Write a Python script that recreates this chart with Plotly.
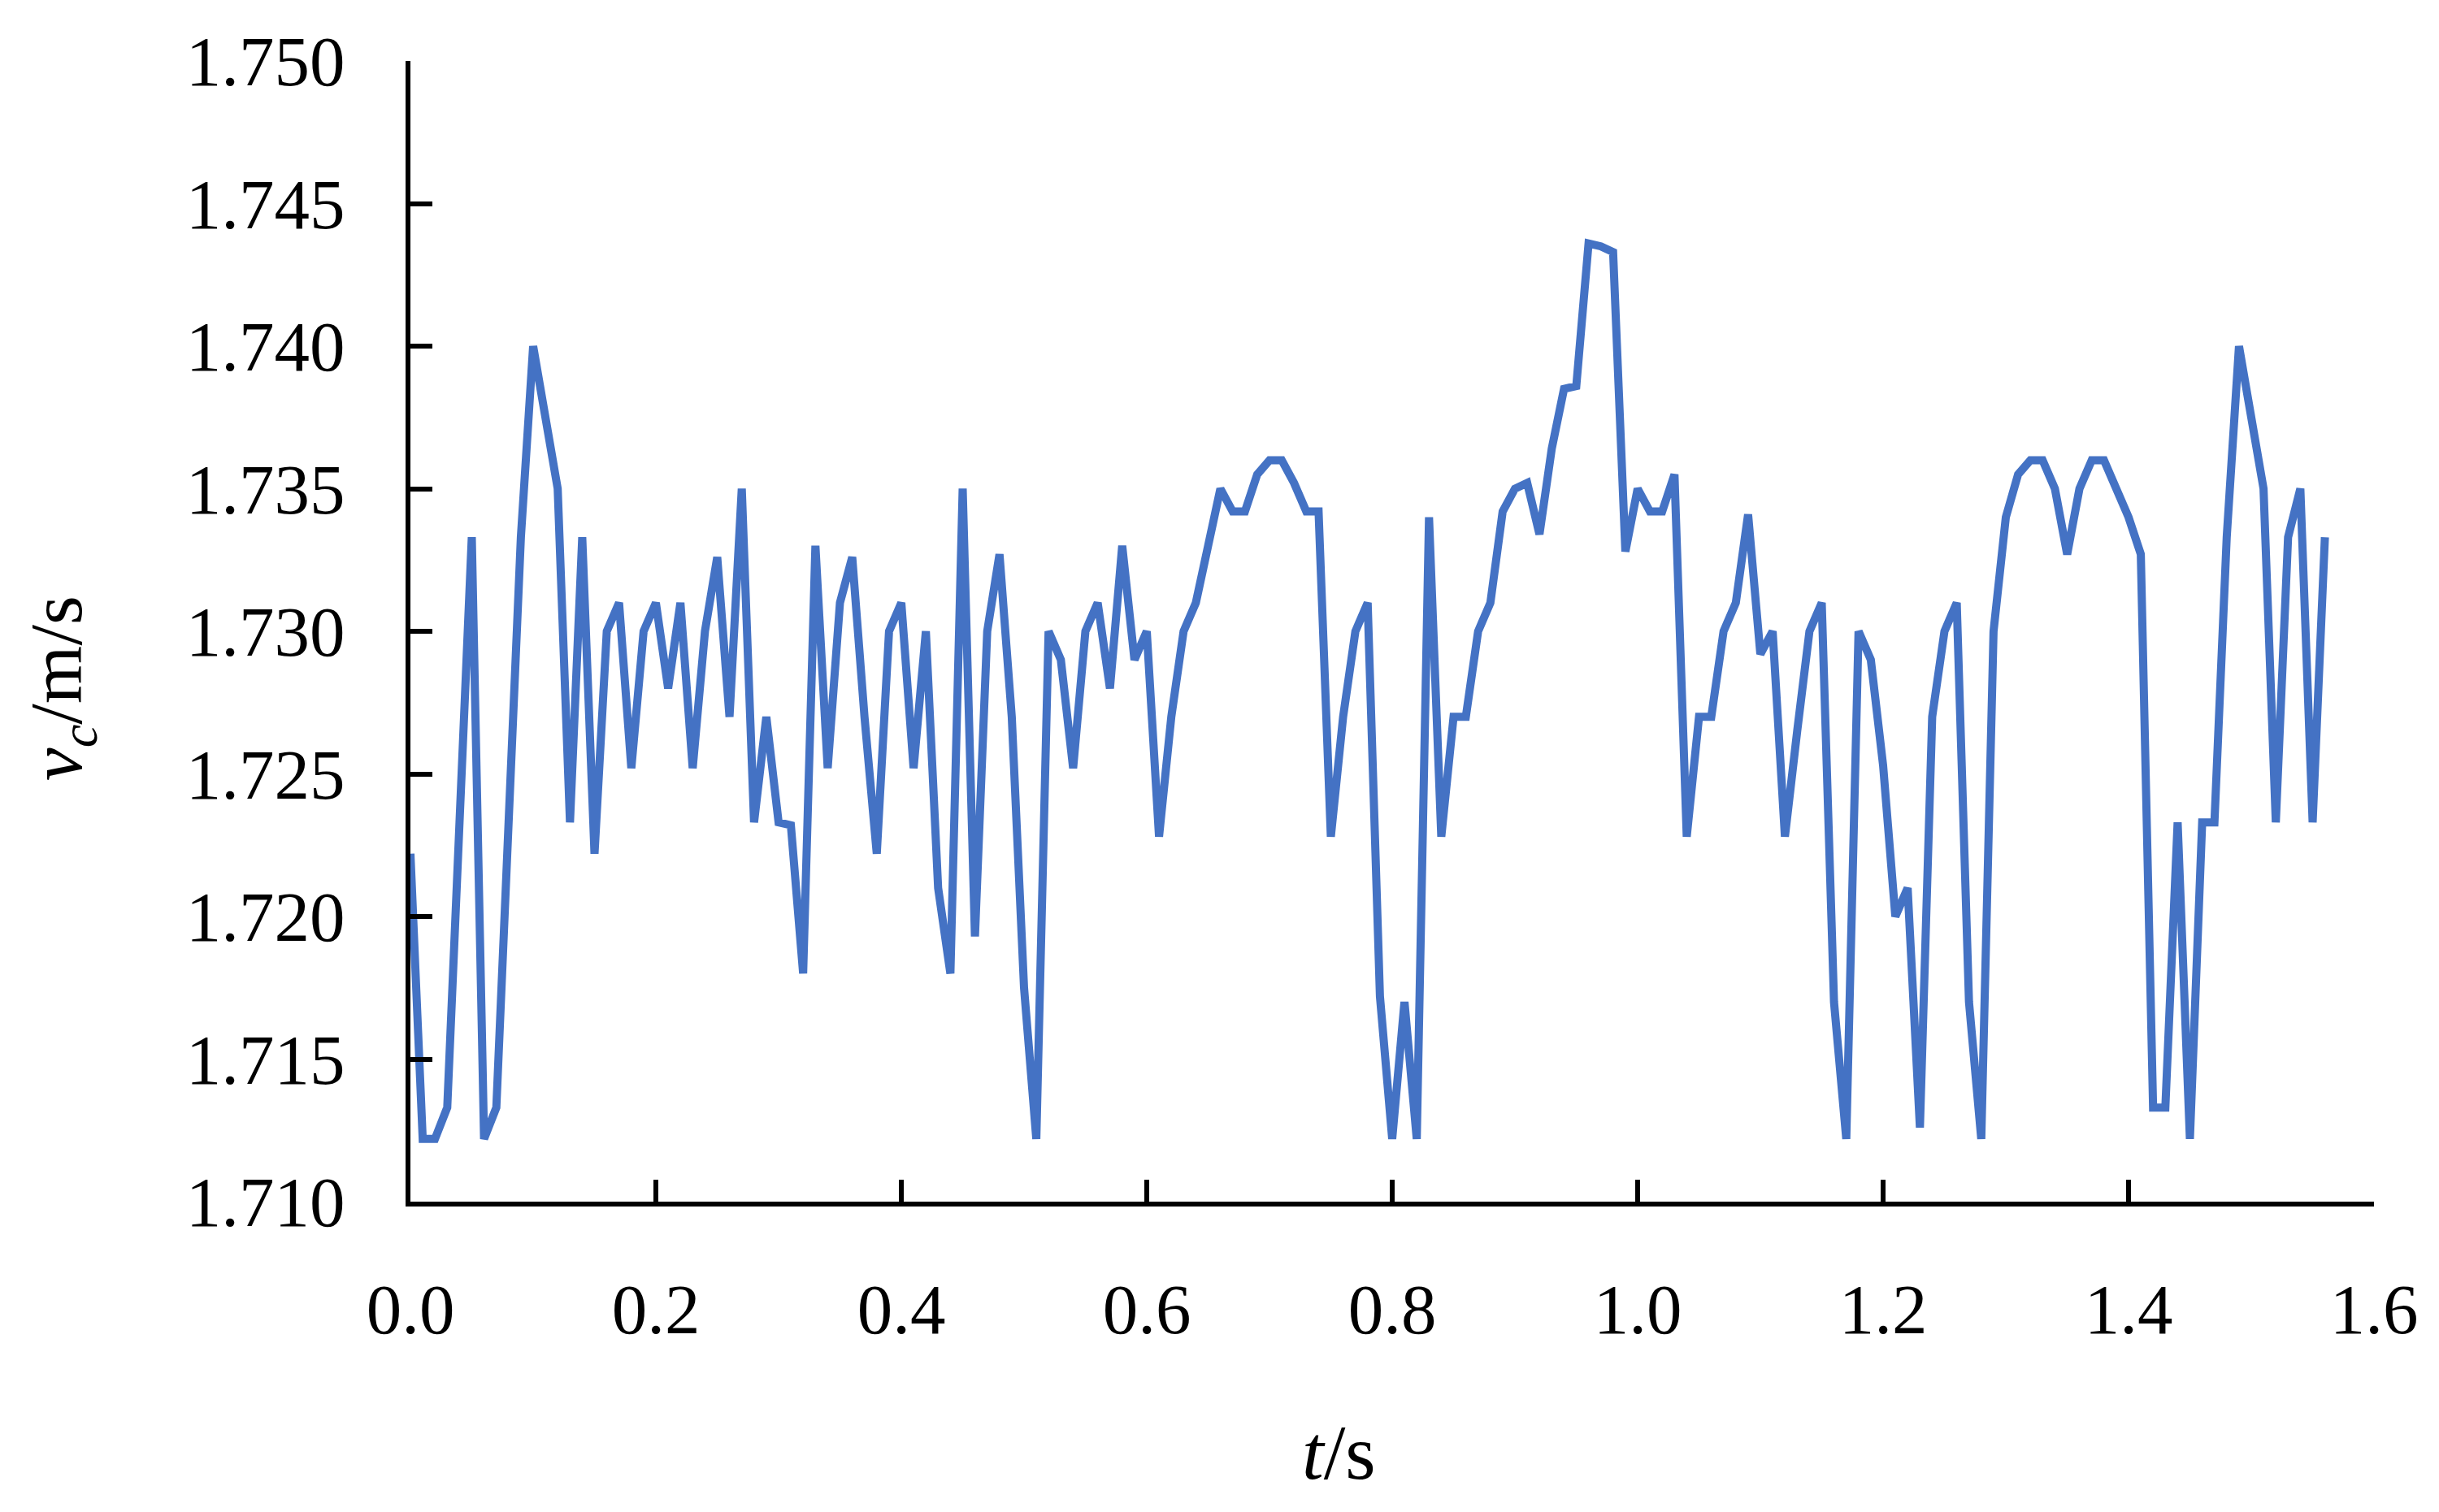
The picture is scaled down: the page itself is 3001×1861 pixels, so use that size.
import plotly.graph_objects as go

# time samples (s): 0.00 .. 1.56 step 0.01
t_values = [round(i * 0.01, 2) for i in range(157)]

# velocity v_c (m/s)
v_values = [
    1.7222, 1.7122, 1.7122, 1.7133, 1.7233, 1.7333, 1.7122, 1.7133, 1.7233, 1.7333,  # 0.00-0.09
    1.7400, 1.7375, 1.7350, 1.7233, 1.7333, 1.7222, 1.7300, 1.7310, 1.7252, 1.7300,  # 0.10-0.19
    1.7310, 1.7280, 1.7310, 1.7252, 1.7300, 1.7326, 1.7270, 1.7350, 1.7233, 1.7270,  # 0.20-0.29
    1.7233, 1.7232, 1.7180, 1.7330, 1.7252, 1.7310, 1.7326, 1.7270, 1.7222, 1.7300,  # 0.30-0.39
    1.7310, 1.7252, 1.7300, 1.7210, 1.7180, 1.7350, 1.7193, 1.7300, 1.7327, 1.7270,  # 0.40-0.49
    1.7175, 1.7122, 1.7300, 1.7290, 1.7252, 1.7300, 1.7310, 1.7280, 1.7330, 1.7290,  # 0.50-0.59
    1.7300, 1.7228, 1.7270, 1.7300, 1.7310, 1.7330, 1.7350, 1.7342, 1.7342, 1.7355,  # 0.60-0.69
    1.7360, 1.7360, 1.7352, 1.7342, 1.7342, 1.7228, 1.7270, 1.7300, 1.7310, 1.7172,  # 0.70-0.79
    1.7122, 1.7170, 1.7122, 1.7340, 1.7228, 1.7270, 1.7270, 1.7300, 1.7310, 1.7342,  # 0.80-0.89
    1.7350, 1.7352, 1.7334, 1.7364, 1.7385, 1.7386, 1.7436, 1.7435, 1.7433, 1.7328,  # 0.90-0.99
    1.7350, 1.7342, 1.7342, 1.7355, 1.7228, 1.7270, 1.7270, 1.7300, 1.7310, 1.7341,  # 1.00-1.09
    1.7292, 1.7300, 1.7228, 1.7265, 1.7300, 1.7310, 1.7170, 1.7122, 1.7300, 1.7290,  # 1.10-1.19
    1.7253, 1.7200, 1.7210, 1.7126, 1.7270, 1.7300, 1.7310, 1.7170, 1.7122, 1.7300,  # 1.20-1.29
    1.7340, 1.7355, 1.7360, 1.7360, 1.7350, 1.7327, 1.7350, 1.7360, 1.7360, 1.7350,  # 1.30-1.39
    1.7340, 1.7327, 1.7133, 1.7133, 1.7233, 1.7122, 1.7233, 1.7233, 1.7333, 1.7400,  # 1.40-1.49
    1.7375, 1.7350, 1.7233, 1.7333, 1.7350, 1.7233, 1.7333,                          # 1.50-1.56
]

x_ticks = [0.0, 0.2, 0.4, 0.6, 0.8, 1.0, 1.2, 1.4, 1.6]
x_tick_labels = ["0.0", "0.2", "0.4", "0.6", "0.8", "1.0", "1.2", "1.4", "1.6"]
y_ticks = [1.710, 1.715, 1.720, 1.725, 1.730, 1.735, 1.740, 1.745, 1.750]
y_tick_labels = ["1.710", "1.715", "1.720", "1.725", "1.730", "1.735", "1.740", "1.745", "1.750"]

FONT = "Liberation Serif, Times New Roman, serif"

fig = go.Figure()
fig.add_trace(go.Scatter(
    x=t_values, y=v_values, mode="lines",
    line=dict(color="#4472C4", width=10),
    showlegend=False, hoverinfo="skip",
))

axis_common = dict(
    showgrid=False, zeroline=False, showline=True, showticklabels=True,
    linecolor="black", linewidth=6,
    ticks="inside", ticklen=27, tickwidth=6, tickcolor="black",
    tickfont=dict(family=FONT, size=87, color="black"),
    mirror=False,
)

fig.update_xaxes(
    range=[0, 1.6], tickmode="array", tickvals=x_ticks, ticktext=x_tick_labels,
    ticklabelstandoff=52, **axis_common,
)
fig.update_yaxes(
    range=[1.710, 1.750], tickmode="array", tickvals=y_ticks, ticktext=y_tick_labels,
    ticklabelstandoff=57, **axis_common,
)

fig.add_annotation(
    text="<i>v</i><sub><i>c</i></sub>/m/s", xref="paper", yref="paper",
    x=-0.178, y=0.45, xanchor="center", yanchor="middle",
    textangle=-90, showarrow=False,
    font=dict(family=FONT, size=92, color="black"),
)
fig.add_annotation(
    text="<i>t</i>/s", xref="paper", yref="paper",
    x=0.473, y=-0.22, xanchor="center", yanchor="middle",
    showarrow=False,
    font=dict(family=FONT, size=96, color="black"),
)

# page body has an 8px default margin; compensate so the plot lands where the reference has it
fig.update_layout(
    width=2993, height=1853, autosize=False,
    margin=dict(l=497, r=80, t=67, b=382, pad=0),
    plot_bgcolor="white", paper_bgcolor="white",
)

fig.write_html("out.html")
